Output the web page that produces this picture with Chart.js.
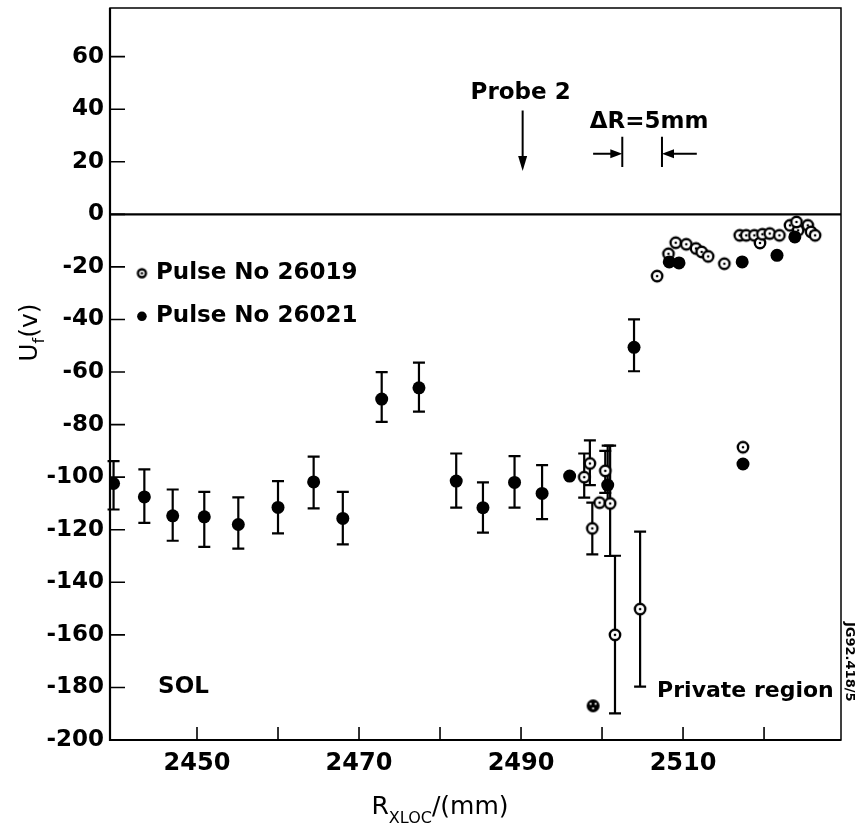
<!DOCTYPE html>
<html>
<head>
<meta charset="utf-8">
<script src="https://cdn.jsdelivr.net/npm/chart.js@4"></script>
<style>
  html, body { margin: 0; padding: 0; background: #fff; }
</style>
</head>
<body>
<canvas id="probeChart" width="857" height="835"></canvas>
<script>
// Pulse No 26019 (open circles with centre dot)
const pulse19X = [2497.8, 2498.5, 2499.7, 2498.8, 2501.0, 2500.4, 2501.6, 2504.7,
  2506.8, 2508.2, 2509.1, 2510.4, 2511.6, 2512.3, 2513.1, 2515.1,
  2517.0, 2517.8, 2518.8, 2519.5, 2519.8, 2520.7, 2521.9, 2523.2,
  2524.2, 2525.4, 2525.8, 2526.3, 2524.0, 2517.4];
const pulse19Y = [-100, -94.8, -109.7, -119.5, -110, -97.6, -160, -150.2,
  -23.5, -15, -10.8, -11.4, -13, -14.3, -16, -18.8,
  -8, -8, -8, -10.9, -7.6, -7.3, -8, -4.2,
  -6.1, -4.2, -6.7, -8, -2.9, -88.6];
const pulse19Lo = [-107.8, -103, null, -129.4, -130, -106, -189.9, -179.7];
const pulse19Hi = [-91, -86, null, -109.7, -88, -90, -129.9, -120.7];

// Pulse No 26021 (filled circles)
const pulse21X = [2439.7, 2443.5, 2447.0, 2450.9, 2455.1, 2460.0, 2464.4, 2468.0,
  2472.8, 2477.4, 2482.0, 2485.3, 2489.2, 2492.6, 2496.0, 2500.7,
  2503.95, 2508.3, 2509.5, 2517.3, 2517.4, 2521.6, 2523.8];
const pulse21Y = [-102.4, -107.5, -114.7, -115.1, -118.0, -111.5, -101.8, -115.7,
  -70.3, -66, -101.5, -111.6, -102, -106.2, -99.6, -103,
  -50.6, -18.1, -18.5, -18.1, -95, -15.6, -8.6];
const pulse21Lo = [-112.3, -117.4, -124.2, -126.5, -127.2, -121.4, -111.9, -125.6,
  -79, -75.1, -111.6, -121.1, -111.6, -116, null, -110, -59.7];
const pulse21Hi = [-93.9, -97, -104.7, -105.6, -107.7, -101.5, -92.2, -105.6,
  -60, -56.4, -91, -102, -92, -95.4, null, -88, -40];

// crossed marker near the bottom
const crossedX = [2498.9];
const crossedY = [-187];

// axis ticks
const xTickValues = [2450, 2460, 2470, 2480, 2490, 2500, 2510, 2520];
const xTickLabels = [2450, 2470, 2490, 2510];
const yTickValues = [-200, -180, -160, -140, -120, -100, -80, -60, -40, -20, 0, 20, 40, 60];

const BOLD = "bold 23px 'DejaVu Sans'";

function toPoints(xs, ys) {
  return xs.map((x, i) => ({ x: x, y: ys[i] }));
}

function ringDot(r) {
  const c = document.createElement("canvas");
  const s = Math.ceil(r * 2 + 5);
  c.width = s;
  c.height = s;
  const g = c.getContext("2d");
  g.fillStyle = "#fff";
  g.strokeStyle = "#000";
  g.lineWidth = 2.4;
  g.beginPath();
  g.arc(s / 2, s / 2, r, 0, Math.PI * 2);
  g.fill();
  g.stroke();
  g.fillStyle = "#000";
  g.beginPath();
  g.arc(s / 2, s / 2, 1.3, 0, Math.PI * 2);
  g.fill();
  return c;
}

function dottedDisc(r) {
  const c = document.createElement("canvas");
  const s = Math.ceil(r * 2 + 4);
  c.width = s;
  c.height = s;
  const g = c.getContext("2d");
  g.fillStyle = "#000";
  g.beginPath();
  g.arc(s / 2, s / 2, r, 0, Math.PI * 2);
  g.fill();
  g.fillStyle = "#fff";
  [[-2.5, -2], [2.5, -2], [0, 2.5]].forEach(([dx, dy]) => {
    g.beginPath();
    g.arc(s / 2 + dx, s / 2 + dy, 1.1, 0, Math.PI * 2);
    g.fill();
  });
  return c;
}

const openStyle = ringDot(5.2);

// error bars under the markers
const errorBars = {
  id: "errorBars",
  beforeDatasetsDraw(chart) {
    const { ctx, scales: { x, y } } = chart;
    ctx.save();
    ctx.strokeStyle = "#000";
    ctx.lineWidth = 2.2;
    chart.data.datasets.forEach((ds) => {
      if (!ds.errLo) return;
      ds.data.forEach((p, i) => {
        const lo = ds.errLo[i];
        const hi = ds.errHi[i];
        if (lo == null || hi == null) return;
        const px = x.getPixelForValue(p.x);
        const y1 = y.getPixelForValue(lo);
        const y2 = y.getPixelForValue(hi);
        ctx.beginPath();
        ctx.moveTo(px, y1);
        ctx.lineTo(px, y2);
        ctx.moveTo(px - 6, y1);
        ctx.lineTo(px + 6, y1);
        ctx.moveTo(px - 6, y2);
        ctx.lineTo(px + 6, y2);
        ctx.stroke();
      });
    });
    ctx.restore();
  },
};

// box, inward ticks and the zero line
const frame = {
  id: "frame",
  beforeDatasetsDraw(chart) {
    const { ctx, chartArea: a, scales: { x, y } } = chart;
    ctx.save();
    ctx.strokeStyle = "#000";
    ctx.lineWidth = 1.5;
    ctx.strokeRect(a.left, a.top, a.right - a.left, a.bottom - a.top);
    ctx.lineWidth = 2.2;
    ctx.beginPath();
    ctx.moveTo(a.left, a.top);
    ctx.lineTo(a.left, a.bottom);
    ctx.lineTo(a.right, a.bottom);
    ctx.stroke();

    ctx.lineWidth = 1.6;
    ctx.beginPath();
    y.ticks.forEach((t) => {
      const py = y.getPixelForValue(t.value);
      ctx.moveTo(a.left, py);
      ctx.lineTo(a.left + 15, py);
    });
    x.ticks.forEach((t) => {
      const px = x.getPixelForValue(t.value);
      ctx.moveTo(px, a.bottom);
      ctx.lineTo(px, a.bottom - 13);
    });
    ctx.stroke();

    const y0 = y.getPixelForValue(0);
    ctx.lineWidth = 2.2;
    ctx.beginPath();
    ctx.moveTo(a.left, y0);
    ctx.lineTo(a.right, y0);
    ctx.stroke();
    ctx.restore();
  },
};

function arrowHead(ctx, tipX, tipY, dx, dy, len, half) {
  // dx, dy: unit direction of the arrow
  ctx.beginPath();
  ctx.moveTo(tipX, tipY);
  ctx.lineTo(tipX - dx * len - dy * half, tipY - dy * len + dx * half);
  ctx.lineTo(tipX - dx * len + dy * half, tipY - dy * len - dx * half);
  ctx.closePath();
  ctx.fill();
}

// legend, notes and axis titles
const notes = {
  id: "notes",
  afterDraw(chart) {
    const { ctx, scales: { x, y } } = chart;
    ctx.save();
    ctx.fillStyle = "#000";
    ctx.strokeStyle = "#000";
    ctx.textBaseline = "middle";
    ctx.font = BOLD;

    // legend
    const lx = x.getPixelForValue(2443.2);
    const ly1 = y.getPixelForValue(-22.4);
    const ly2 = y.getPixelForValue(-38.8);
    ctx.drawImage(ringDot(4), lx - 6.5, ly1 - 6.5);
    ctx.beginPath();
    ctx.arc(lx, ly2, 4.8, 0, Math.PI * 2);
    ctx.fill();
    ctx.textAlign = "left";
    ctx.fillText("Pulse No 26019", lx + 14, ly1);
    ctx.fillText("Pulse No 26021", lx + 14, ly2);

    // probe 2
    const px = x.getPixelForValue(2490.2);
    ctx.textAlign = "center";
    ctx.fillText("Probe 2", px - 2, y.getPixelForValue(46));
    ctx.lineWidth = 2;
    const aTop = y.getPixelForValue(39.5);
    const aBot = y.getPixelForValue(16.5);
    ctx.beginPath();
    ctx.moveTo(px, aTop);
    ctx.lineTo(px, aBot - 10);
    ctx.stroke();
    arrowHead(ctx, px, aBot, 0, 1, 15, 4.5);

    // delta R
    ctx.fillText("\u0394R=5mm", x.getPixelForValue(2505.8), y.getPixelForValue(35));
    const m1 = x.getPixelForValue(2502.5);
    const m2 = x.getPixelForValue(2507.4);
    const mTop = y.getPixelForValue(29.5);
    const mBot = y.getPixelForValue(18);
    const mMid = y.getPixelForValue(23);
    ctx.beginPath();
    ctx.moveTo(m1, mTop);
    ctx.lineTo(m1, mBot);
    ctx.moveTo(m2, mTop);
    ctx.lineTo(m2, mBot);
    ctx.moveTo(x.getPixelForValue(2498.9), mMid);
    ctx.lineTo(m1 - 8, mMid);
    ctx.moveTo(x.getPixelForValue(2511.7), mMid);
    ctx.lineTo(m2 + 8, mMid);
    ctx.stroke();
    arrowHead(ctx, m1, mMid, 1, 0, 12, 4.5);
    arrowHead(ctx, m2, mMid, -1, 0, 12, 4.5);

    // region names
    ctx.textAlign = "left";
    ctx.fillText("SOL", x.getPixelForValue(2445.2), y.getPixelForValue(-180));
    ctx.font = "bold 22px 'DejaVu Sans'";
    ctx.fillText("Private region", x.getPixelForValue(2506.8), y.getPixelForValue(-181.5));

    // x title with subscript
    const parts = [
      ["R", "25px 'DejaVu Sans'", 0],
      ["XLOC", "16px 'DejaVu Sans'", 9],
      ["/(mm)", "25px 'DejaVu Sans'", 0],
    ];
    let total = 0;
    parts.forEach((p) => {
      ctx.font = p[1];
      total += ctx.measureText(p[0]).width;
    });
    let tx = x.getPixelForValue(2480) - total / 2;
    ctx.textBaseline = "alphabetic";
    parts.forEach((p) => {
      ctx.font = p[1];
      ctx.fillText(p[0], tx, 814 + p[2]);
      tx += ctx.measureText(p[0]).width;
    });

    // y title, rotated
    ctx.save();
    ctx.translate(37, y.getPixelForValue(-45));
    ctx.rotate(-Math.PI / 2);
    const yParts = [
      ["U", "25px 'DejaVu Sans'", 0],
      ["f", "16px 'DejaVu Sans'", 7],
      ["(v)", "25px 'DejaVu Sans'", 0],
    ];
    let yw = 0;
    yParts.forEach((p) => {
      ctx.font = p[1];
      yw += ctx.measureText(p[0]).width;
    });
    let ty = -yw / 2;
    yParts.forEach((p) => {
      ctx.font = p[1];
      ctx.fillText(p[0], ty, p[2]);
      ty += ctx.measureText(p[0]).width;
    });
    ctx.restore();

    // figure id along the right edge
    ctx.save();
    ctx.translate(849, 622);
    ctx.rotate(Math.PI / 2);
    ctx.font = "bold 13px 'DejaVu Sans'";
    ctx.textAlign = "left";
    ctx.textBaseline = "middle";
    ctx.fillText("JG92.418/5", 0, 0);
    ctx.restore();

    ctx.restore();
  },
};

const ctx = document.getElementById("probeChart").getContext("2d");

const probeChart = new Chart(ctx, {
  type: "scatter",
  data: {
    datasets: [
      {
        label: "Pulse No 26021",
        data: toPoints(pulse21X, pulse21Y),
        errLo: pulse21Lo,
        errHi: pulse21Hi,
        pointStyle: "circle",
        pointRadius: 6.5,
        backgroundColor: "#000",
        borderColor: "#000",
        borderWidth: 0,
      },
      {
        label: "Pulse No 26019",
        data: toPoints(pulse19X, pulse19Y),
        errLo: pulse19Lo,
        errHi: pulse19Hi,
        pointStyle: openStyle,
        pointRadius: 6,
      },
      {
        label: "crossed",
        data: toPoints(crossedX, crossedY),
        pointStyle: dottedDisc(6.5),
        pointRadius: 7,
      },
    ],
  },
  options: {
    responsive: false,
    animation: false,
    events: [],
    layout: { padding: { top: 8, right: 16, left: 0, bottom: 0 } },
    plugins: {
      legend: { display: false },
      tooltip: { enabled: false },
    },
    scales: {
      x: {
        type: "linear",
        min: 2439.26,
        max: 2529.5,
        grid: { display: false, drawTicks: false },
        border: { display: false },
        afterBuildTicks: (scale) => {
          scale.ticks = xTickValues.map((v) => ({ value: v }));
        },
        afterFit: (scale) => {
          scale.height = 95;
          scale.paddingLeft = 0;
          scale.paddingRight = 0;
        },
        ticks: {
          color: "#000",
          font: { family: "DejaVu Sans", size: 24, weight: "bold" },
          padding: 9,
          autoSkip: false,
          maxRotation: 0,
          callback: (v) => (xTickLabels.includes(v) ? String(v) : ""),
        },
      },
      y: {
        type: "linear",
        min: -200,
        max: 78.5,
        grid: { display: false, drawTicks: false },
        border: { display: false },
        afterBuildTicks: (scale) => {
          scale.ticks = yTickValues.map((v) => ({ value: v }));
        },
        afterFit: (scale) => {
          scale.width = 110;
          scale.paddingTop = 0;
          scale.paddingBottom = 0;
        },
        ticks: {
          color: "#000",
          font: { family: "DejaVu Sans", size: 23, weight: "bold" },
          padding: 6,
          autoSkip: false,
          callback: (v) => String(v),
        },
      },
    },
  },
  plugins: [frame, errorBars, notes],
});
</script>
</body>
</html>
